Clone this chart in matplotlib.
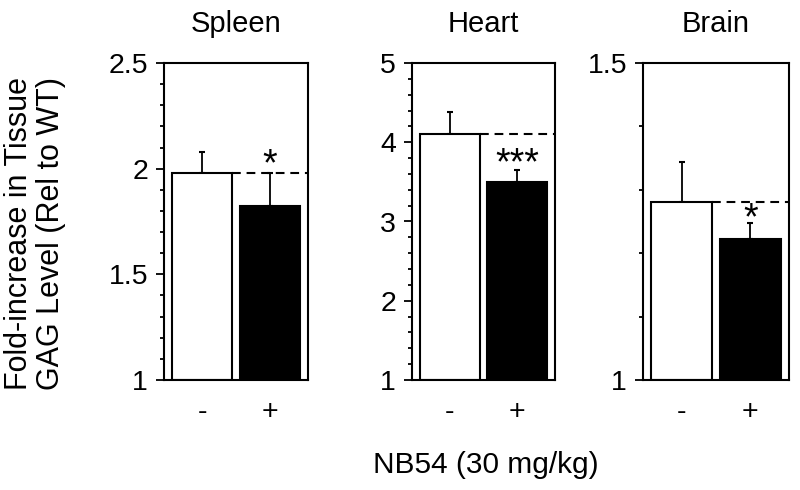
import matplotlib
matplotlib.use("Agg")
import matplotlib.pyplot as plt
from matplotlib.ticker import MultipleLocator, FixedLocator

plt.rcParams['font.family'] = ['Liberation Sans', 'DejaVu Sans']

tissues = ['Spleen', 'Heart', 'Brain']
untreated_mean = [1.98, 4.11, 1.281]
untreated_err = [0.10, 0.27, 0.063]
treated_mean = [1.825, 3.50, 1.223]
treated_err = [0.155, 0.145, 0.025]
y_limits = [(1, 2.5), (1, 5), (1, 1.5)]
major_ticks = [[1, 1.5, 2, 2.5], [1, 2, 3, 4, 5], [1, 1.5]]
major_labels = [['1', '1.5', '2', '2.5'], ['1', '2', '3', '4', '5'], ['1', '1.5']]
minor_steps = [0.1, 0.2, 0.1]
stars = ['*', '***', '*']
group_labels = ['-', '+']
xlabel_text = 'NB54 (30 mg/kg)'
ylabel_text = 'Fold-increase in Tissue\nGAG Level (Rel to WT)'

W, H = 800, 490
fig = plt.figure(figsize=(8, 4.9), dpi=100)
boxes = [(164, 144), (412, 143), (643, 146)]
star_shift = [-2, -3, -5]
lw = 1.5

for i, t in enumerate(tissues):
    left, width = boxes[i]
    ax = fig.add_axes([left / W, 110 / H, width / W, 317 / H])
    x = [0, 1]
    bw = 0.89
    ax.bar(x[0], untreated_mean[i] - y_limits[i][0], bottom=y_limits[i][0], width=bw,
           color='white', edgecolor='black', linewidth=lw, zorder=2)
    ax.bar(x[1], treated_mean[i] - y_limits[i][0], bottom=y_limits[i][0], width=bw,
           color='black', edgecolor='black', linewidth=lw, zorder=2)
    ax.errorbar(x, [untreated_mean[i], treated_mean[i]],
                yerr=[[0, 0], [untreated_err[i], treated_err[i]]],
                fmt='none', ecolor='black', elinewidth=1.3, capsize=2.5, capthick=1.5, zorder=1)
    ax.plot([x[0] + bw / 2, 1.6], [untreated_mean[i]] * 2, color='black', lw=lw,
            linestyle=(0, (4.2, 2.8)), zorder=3, clip_on=True)
    ax.set_xlim(-0.565, 1.565)
    ax.set_ylim(*y_limits[i])
    ax.yaxis.set_major_locator(FixedLocator(major_ticks[i]))
    ax.set_yticklabels(major_labels[i])
    ax.yaxis.set_minor_locator(MultipleLocator(minor_steps[i]))
    ax.tick_params(axis='y', which='major', length=5.5, width=1.3, direction='out',
                   labelsize=20.5, pad=6)
    ax.tick_params(axis='y', which='minor', length=3, width=1.3, direction='out')
    ax.set_xticks(x)
    ax.set_xticklabels(group_labels)
    ax.tick_params(axis='x', length=0, labelsize=20.5, pad=14)
    for s in ax.spines.values():
        s.set_linewidth(lw)
    ax.set_title(t, fontsize=21, pad=22)
    ax.annotate(stars[i], xy=(x[1], treated_mean[i] + treated_err[i]),
                xytext=(0, star_shift[i]), textcoords='offset points',
                ha='center', va='baseline', fontsize=27, zorder=4)

fig.text(486 / W, (H - 473) / H, xlabel_text, ha='center', va='baseline', fontsize=21.5)
fig.text(35 / W, (H - 234) / H, ylabel_text, ha='center', va='center', rotation=90,
         fontsize=22, multialignment='center', linespacing=1.12)

fig.savefig('out.png', dpi=100)
